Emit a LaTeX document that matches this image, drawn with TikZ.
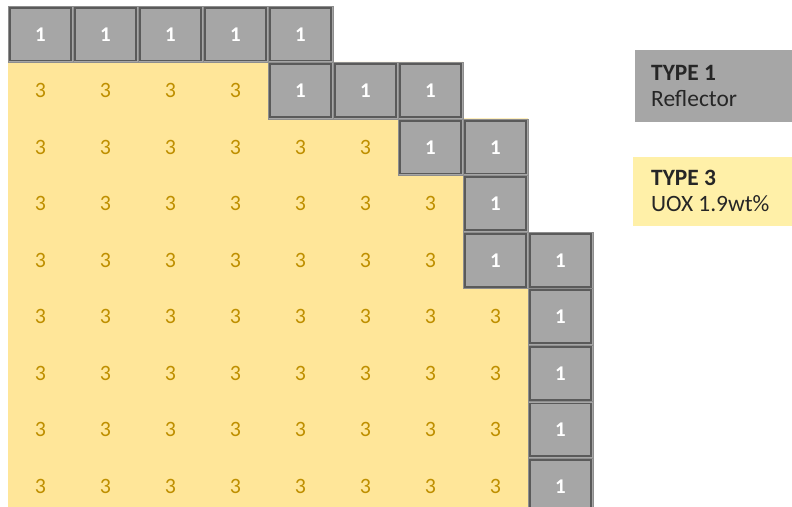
\documentclass[tikz,border=0pt]{standalone}
\usepackage{fontspec}
\setmainfont{Carlito}
\usetikzlibrary{calc}
\definecolor{cellgray}{HTML}{A6A6A6}
\definecolor{celldark}{HTML}{5A5A5A}
\definecolor{cellouter}{HTML}{8E8E8E}
\definecolor{fuel}{HTML}{FFE699}
\definecolor{fueltext}{HTML}{BF8F00}
\definecolor{legyellow}{HTML}{FFF0A8}
\definecolor{legtext}{HTML}{262626}
\tikzset{
  px/.style={x=1bp,y=-1bp},
  refcell/.style={rectangle,fill=cellgray,draw=cellouter,line width=0.8bp,
    minimum width=65bp,minimum height=56.5bp,inner sep=0pt,anchor=center,
    font=\fontsize{21}{21}\selectfont\bfseries,text=white},
  refinner/.style={draw=celldark,line width=1.8bp},
  fuelnum/.style={inner sep=0pt,anchor=center,text=fueltext,
    font=\fontsize{22}{22}\selectfont},
  legtxt/.style={anchor=base west,inner sep=0pt,text=legtext,
    font=\fontsize{23.5}{24}\selectfont}
}
\begin{document}
\begin{tikzpicture}[px]
\useasboundingbox (0,0) rectangle (792,507);
\clip (0,0) rectangle (792,507);
% fuel region
\fill[fuel] (8,62) -- (463,62) -- (463,118.5) -- (528,118.5) -- (528,507) -- (8,507) -- cycle;
% fuel numbers: row r (2..9), columns 1..n
\foreach \r/\n in {2/4,3/6,4/7,5/7,6/8,7/8,8/8,9/8}{
  \foreach \c in {1,...,\n}{
    \node[fuelnum] (f-\r-\c) at ({8+65*(\c-0.5)},{6+56.5*(\r-0.5)}) {3};
  }
}
% reflector cells
\foreach \r/\c in {1/1,1/2,1/3,1/4,1/5,2/5,2/6,2/7,3/7,3/8,4/8,5/8,5/9,6/9,7/9,8/9,9/9}{
  \node[refcell] (g-\r-\c) at ({8+65*(\c-0.5)},{6+56.5*(\r-0.5)}) {1};
  \draw[refinner] ($(g-\r-\c.north west)+(2.3,2.3)$) rectangle ($(g-\r-\c.south east)+(-2.3,-2.3)$);
}
% legend
\fill[cellgray] (635,50) rectangle (792,122);
\node[legtxt] (t1a) at (651,81) {\textbf{TYPE 1}};
\node[legtxt] (t1b) at (651,107) {Reflector};
\fill[legyellow] (633,157) rectangle (792,226);
\node[legtxt] (t3a) at (651,186) {\textbf{TYPE 3}};
\node[legtxt] (t3b) at (651,212) {UOX 1.9wt\%};
\end{tikzpicture}
\end{document}
